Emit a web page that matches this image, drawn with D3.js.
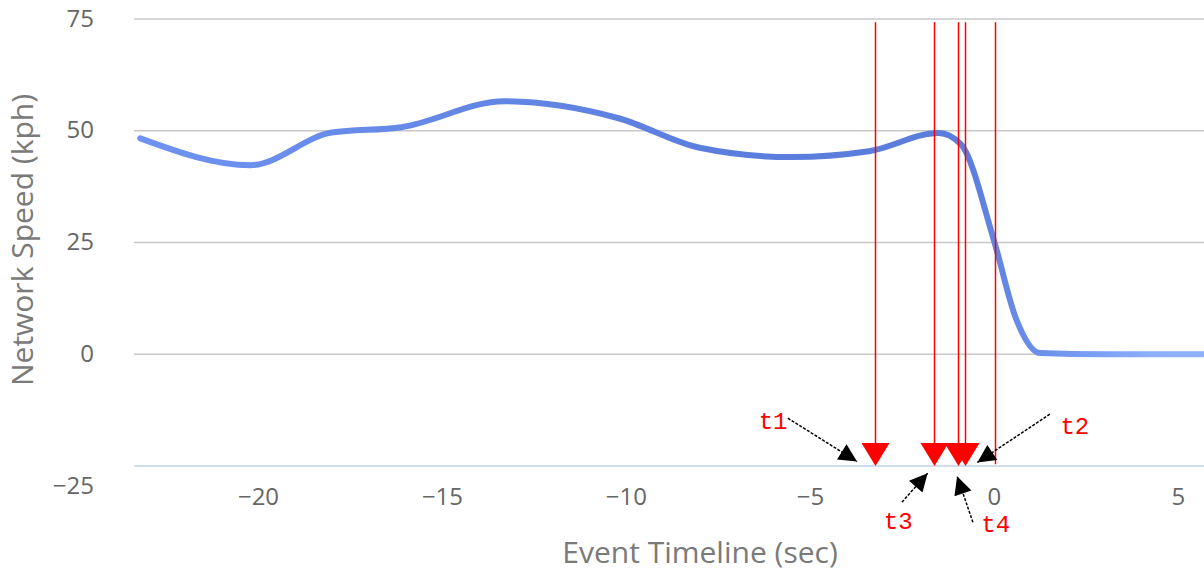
<!DOCTYPE html>
<html>
<head>
<meta charset="utf-8">
<title>Network Speed</title>
<style>
  body { margin: 0; background: #fff; }
  svg { display: block; }
</style>
</head>
<body>
<svg width="1204" height="574"></svg>
<script src="https://d3js.org/d3.v7.min.js"></script>
<script>
// speed curve (sec, kph)
const times  = [-23.2, -20.2, -18.0, -16.1, -13.3, -10.2, -8.0, -5.5, -3.4, -1.5, -0.9, 0.0, 0.6, 1.25, 3.0, 5.8];
const speeds = [48.3, 42.3, 49.6, 50.8, 56.6, 52.8, 46.2, 44.1, 45.4, 49.5, 47.0, 25.5, 8.0, 0.3, 0, 0];

const yTicks = [75, 50, 25, 0, -25];
const xTicks = [-20, -15, -10, -5, 0, 5];

// event markers (sec); the last one has no triangle
const eventTimes = [-3.23, -1.63, -0.98, -0.79, 0.03];
const eventHasHead = [true, true, true, true, false];

// annotations: label, label pos, arrow from, arrow to (sec, kph)
const labels   = ["t1", "t2", "t3", "t4"];
const labelPos = [[-6.0, -14.8], [2.2, -15.9], [-2.6, -37.2], [0.05, -37.8]];
const arrowFrom = [[-5.6, -14.3], [1.52, -13.4], [-2.5, -33.1], [-0.57, -37.6]];
const arrowTo   = [[-3.72, -24.0], [-0.45, -24.2], [-1.8, -26.6], [-1.0, -27.3]];

const svg = d3.select("svg");
const x = d3.scaleLinear().domain([-23.37, 5.71]).range([134, 1204]);
const y = d3.scaleLinear().domain([-25, 75]).range([466, 19]);

const font = "'Open Sans', 'DejaVu Sans', sans-serif";

// gridlines
svg.append("g")
  .selectAll("line")
  .data(yTicks)
  .join("line")
    .attr("x1", x.range()[0]).attr("x2", x.range()[1])
    .attr("y1", d => y(d)).attr("y2", d => y(d))
    .attr("stroke", d => d === -25 ? "#c3d3e6" : "#c8c8c8")
    .attr("stroke-width", 1.6);

// y axis
const yAxis = svg.append("g")
  .attr("transform", "translate(94,0)")
  .call(d3.axisLeft(y).tickValues(yTicks).tickSize(0).tickPadding(0));
yAxis.select(".domain").remove();
yAxis.selectAll("text")
  .attr("font-family", font).attr("font-size", 24).attr("fill", "#666")
  .attr("dy", d => d === -25 ? "1.15em" : "0.3em");

// x axis
const xAxis = svg.append("g")
  .attr("transform", "translate(0,488)")
  .call(d3.axisBottom(x).tickValues(xTicks).tickSize(0).tickPadding(0));
xAxis.select(".domain").remove();
xAxis.selectAll("text")
  .attr("font-family", font).attr("font-size", 24).attr("fill", "#666");

// axis titles
svg.append("text")
  .attr("transform", "translate(33,240) rotate(-90)")
  .attr("text-anchor", "middle")
  .attr("font-family", font).attr("font-size", 30).attr("fill", "#7a7a7a")
  .text("Network Speed (kph)");

svg.append("text")
  .attr("x", 700).attr("y", 563)
  .attr("text-anchor", "middle")
  .attr("font-family", font).attr("font-size", 30).attr("fill", "#7a7a7a")
  .text("Event Timeline (sec)");

// line gradient
const grad = svg.append("defs").append("linearGradient")
  .attr("id", "lineGrad")
  .attr("gradientUnits", "userSpaceOnUse")
  .attr("x1", x.range()[0]).attr("x2", x.range()[1])
  .attr("y1", 0).attr("y2", 0);
grad.selectAll("stop")
  .data([[0, "#6f93f0"], [0.55, "#5b7ede"], [0.78, "#5b7edd"], [0.86, "#6f94ec"], [0.95, "#8cafff"], [1, "#8db0ff"]])
  .join("stop")
    .attr("offset", d => d[0])
    .attr("stop-color", d => d[1]);

const line = d3.line()
  .x((d, i) => x(times[i]))
  .y(d => y(d))
  .curve(d3.curveMonotoneX);

svg.append("path")
  .datum(speeds)
  .attr("d", line)
  .attr("fill", "none")
  .attr("stroke", "url(#lineGrad)")
  .attr("stroke-width", 6)
  .attr("stroke-linecap", "round");

// red event lines with down triangles
const ev = svg.append("g");
ev.selectAll("line")
  .data(eventTimes)
  .join("line")
    .attr("x1", d => Math.round(x(d)) + 0.5).attr("x2", d => Math.round(x(d)) + 0.5)
    .attr("y1", y(74.3)).attr("y2", (d, i) => eventHasHead[i] ? y(-21) : y(-24.6))
    .attr("stroke", "#ff0000").attr("stroke-width", 1.5);
ev.selectAll("path")
  .data(eventTimes.filter((d, i) => eventHasHead[i]))
  .join("path")
    .attr("transform", d => `translate(${Math.round(x(d)) + 0.5},${y(-25)})`)
    .attr("d", "M-14,-23 L14,-23 L0,0 Z")
    .attr("fill", "#ff0000");

// arrows
svg.append("defs").append("marker")
  .attr("id", "arrowHead")
  .attr("viewBox", "0 0 10 10")
  .attr("refX", 10).attr("refY", 5)
  .attr("markerWidth", 20).attr("markerHeight", 18)
  .attr("markerUnits", "userSpaceOnUse")
  .attr("orient", "auto")
  .append("path")
    .attr("d", "M0,0 L10,5 L0,10 Z")
    .attr("fill", "#000");

svg.append("g")
  .selectAll("line")
  .data(labels)
  .join("line")
    .attr("x1", (d, i) => x(arrowFrom[i][0])).attr("y1", (d, i) => y(arrowFrom[i][1]))
    .attr("x2", (d, i) => x(arrowTo[i][0])).attr("y2", (d, i) => y(arrowTo[i][1]))
    .attr("stroke", "#000").attr("stroke-width", 1.5)
    .attr("stroke-dasharray", "3,1.5")
    .attr("marker-end", "url(#arrowHead)");

svg.append("g")
  .selectAll("text")
  .data(labels)
  .join("text")
    .attr("x", (d, i) => x(labelPos[i][0])).attr("y", (d, i) => y(labelPos[i][1]))
    .attr("text-anchor", "middle").attr("dy", "0.35em")
    .attr("font-family", "'Liberation Mono', 'DejaVu Sans Mono', monospace")
    .attr("font-size", 24).attr("fill", "#ff0000")
    .text(d => d);
</script>
</body>
</html>
